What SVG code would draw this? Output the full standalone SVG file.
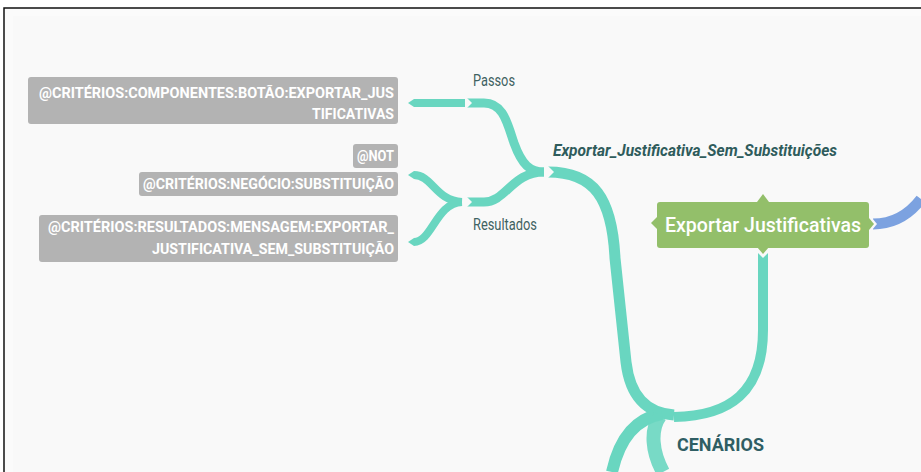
<svg xmlns="http://www.w3.org/2000/svg" width="921" height="472" viewBox="0 0 921 472">
  <style>
    .tag rect { fill: #b3b3b3; }
    .tag text { font-family: Roboto, "Liberation Sans", sans-serif; font-weight: 700; font-size: 15px; fill: #ffffff; }
    .lbl { font-family: Roboto, "Liberation Sans", sans-serif; font-size: 16px; fill: #3f6262; }
    .link { fill: none; stroke: #69d6c0; stroke-linecap: butt; }
    .tip { fill: #69d6c0; }
    .cut { fill: #f9f9f9; }
  </style>

  <!-- canvas and frame -->
  <rect x="0" y="0" width="921" height="472" fill="#ffffff"/>
  <rect x="5" y="8" width="916" height="464" fill="#fbfbfb"/>
  <rect x="13" y="16" width="908" height="456" fill="#f9f9f9"/>
  <path d="M4 472 V8 H921" fill="none" stroke="#111111" stroke-width="1.5"/>

  <!-- connectors -->
  <g id="connectors">
    <!-- Passos -> tag -->
    <path class="link" d="M414 103 H465" stroke-width="8"/>
    <polygon class="tip" points="414,99 408,103 414,107"/>
    <!-- Passos stem -->
    <path class="link" d="M467 103 H484 C503 103 507 122 514 143 C522 165 530 172 544 172" stroke-width="9"/>
    <polygon class="cut" points="466,97 466,109 472,103"/>
    <!-- Resultados stem -->
    <path class="link" d="M467 202 H484 C506 202 512 172 544 172" stroke-width="9"/>
    <polygon class="cut" points="466,196 466,208 472,202"/>
    <!-- Resultados -> tags -->
    <path class="link" d="M414 175 C432 175 436 201 462 202" stroke-width="8"/>
    <polygon class="tip" points="414,171 408,175 414,179"/>
    <path class="link" d="M414 242 C432 242 436 203 462 202" stroke-width="8"/>
    <polygon class="tip" points="414,238 408,242 414,246"/>
    <!-- scenario stem -->
    <path class="link" d="M548 172 C594 172 612 198 615 258 L626 362 C630 396 646 413 674 415" stroke-width="11"/>
    <polygon class="cut" points="547,165 547,179 554,172"/>
    <!-- Exportar Justificativas -> CENÁRIOS -->
    <path class="link" d="M763 252 V330 C763 392 730 416 674 417" stroke-width="10"/>
    <polygon class="cut" points="756,251 770,251 763,258"/>
    <!-- CENÁRIOS downward links -->
    <path class="link" d="M662 414 C638 418 620 436 612 472" stroke-width="12"/>
    <path class="link" d="M660 416 C650 430 652 452 663 472" stroke-width="14" opacity="0.9"/>
    <!-- root link -->
    <path fill="none" stroke="#7ca2e0" stroke-width="11" d="M873 224 C896 224 911 212 921 199"/>
    <polygon class="cut" points="872,218 872,230 877,224"/>
  </g>

  <!-- tag nodes -->
  <g id="tag-botao" class="tag">
    <rect x="28" y="77" width="370" height="47" rx="3"/>
    <text x="39" y="98" textLength="355" lengthAdjust="spacingAndGlyphs">@CRITÉRIOS:COMPONENTES:BOTÃO:EXPORTAR_JUS</text>
    <text x="312" y="119" textLength="82" lengthAdjust="spacingAndGlyphs">TIFICATIVAS</text>
  </g>
  <g id="tag-not" class="tag">
    <rect x="353" y="144" width="45" height="24" rx="3"/>
    <text x="357" y="161" textLength="37" lengthAdjust="spacingAndGlyphs">@NOT</text>
  </g>
  <g id="tag-negocio" class="tag">
    <rect x="139" y="172" width="259" height="24" rx="3"/>
    <text x="143" y="189" textLength="251" lengthAdjust="spacingAndGlyphs">@CRITÉRIOS:NEGÓCIO:SUBSTITUIÇÃO</text>
  </g>
  <g id="tag-mensagem" class="tag">
    <rect x="39" y="215" width="359" height="47" rx="3"/>
    <text x="48" y="232" textLength="346" lengthAdjust="spacingAndGlyphs">@CRITÉRIOS:RESULTADOS:MENSAGEM:EXPORTAR_</text>
    <text x="152" y="254" textLength="242" lengthAdjust="spacingAndGlyphs">JUSTIFICATIVA_SEM_SUBSTITUIÇÃO</text>
  </g>

  <!-- text nodes -->
  <g id="passos">
    <text class="lbl" x="473" y="86" textLength="42" lengthAdjust="spacingAndGlyphs">Passos</text>
  </g>
  <g id="resultados">
    <text class="lbl" x="473" y="230" textLength="64" lengthAdjust="spacingAndGlyphs">Resultados</text>
  </g>
  <g id="cenario">
    <text x="553" y="156" font-family="Roboto, 'Liberation Sans', sans-serif" font-size="16" font-weight="700" font-style="italic" fill="#2f5c5c" textLength="284" lengthAdjust="spacingAndGlyphs">Exportar_Justificativa_Sem_Substituições</text>
  </g>
  <g id="cenarios">
    <text x="677" y="451" font-family="Roboto, 'Liberation Sans', sans-serif" font-size="19" font-weight="700" fill="#2f5e64" textLength="87" lengthAdjust="spacingAndGlyphs">CENÁRIOS</text>
  </g>

  <!-- feature node -->
  <g id="feature">
    <rect x="657" y="202" width="212" height="46" rx="3" fill="#93bf6a"/>
    <polygon points="757,202 769,202 763,194" fill="#93bf6a"/>
    <polygon points="657,217 657,229 651,223" fill="#93bf6a"/>
    <polygon points="869,218 869,230 874,224" fill="#93bf6a"/>
    <polygon points="757,247 769,247 763,254" fill="#93bf6a"/>
    <text x="665" y="232" font-family="Roboto, 'Liberation Sans', sans-serif" font-size="21" font-weight="500" fill="#ffffff" textLength="196" lengthAdjust="spacingAndGlyphs">Exportar Justificativas</text>
  </g>
</svg>
